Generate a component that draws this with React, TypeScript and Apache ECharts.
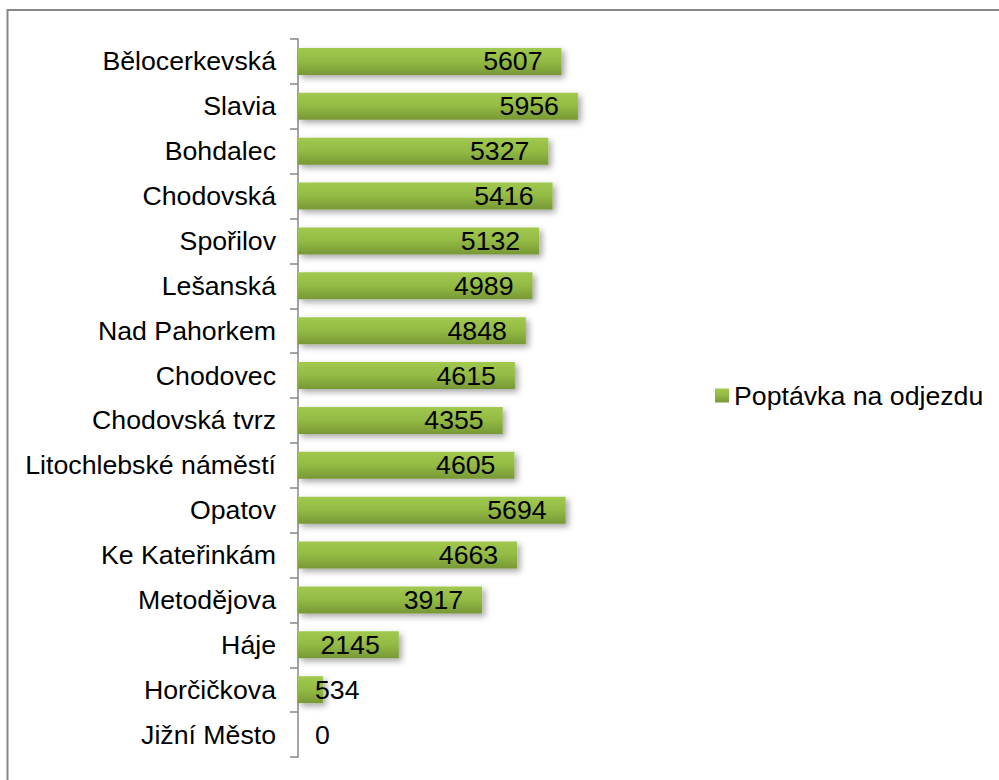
import React, { useEffect, useRef } from "react";
import * as echarts from "echarts";

const categories = [
  "Bělocerkevská",
  "Slavia",
  "Bohdalec",
  "Chodovská",
  "Spořilov",
  "Lešanská",
  "Nad Pahorkem",
  "Chodovec",
  "Chodovská tvrz",
  "Litochlebské náměstí",
  "Opatov",
  "Ke Kateřinkám",
  "Metodějova",
  "Háje",
  "Horčičkova",
  "Jižní Město",
];

const values = [5607, 5956, 5327, 5416, 5132, 4989, 4848, 4615, 4355, 4605, 5694, 4663, 3917, 2145, 534, 0];

const seriesName = "Poptávka na odjezdu";

const FONT = "'Liberation Sans', Arial, sans-serif";
const FS = 26.7;

export default function App() {
  const ref = useRef<HTMLDivElement>(null);

  useEffect(() => {
    if (!ref.current) return;
    const chart = echarts.init(ref.current, undefined, { renderer: "svg" });
    const barColor = new echarts.graphic.LinearGradient(0, 0, 0, 1, [
      { offset: 0, color: "#a1c94f" },
      { offset: 0.5, color: "#93ba43" },
      { offset: 1, color: "#789836" },
    ]);
    chart.setOption({
      animation: false,
      backgroundColor: "#ffffff",
      textStyle: { fontFamily: FONT },
      graphic: [
        {
          type: "rect",
          shape: { x: 7.5, y: 10, width: 1100, height: 900 },
          style: { fill: "none", stroke: "#878787", lineWidth: 2 },
          silent: true,
          z: -10,
        },
      ],
      grid: { left: 298, top: 39, width: 329, height: 718, containLabel: false },
      xAxis: {
        type: "value",
        min: 0,
        max: 7000,
        show: false,
      },
      yAxis: {
        type: "category",
        data: categories,
        inverse: true,
        axisLine: { show: true, lineStyle: { color: "#878787", width: 1.5 } },
        axisTick: { show: true, length: 8, lineStyle: { color: "#878787", width: 1.5 } },
        axisLabel: { color: "#000000", fontSize: FS, fontFamily: FONT, margin: 22 },
        splitLine: { show: false },
      },
      legend: {
        show: true,
        orient: "vertical",
        left: 715,
        top: 382,
        padding: 0,
        itemWidth: 14,
        itemHeight: 14,
        icon: "rect",
        textStyle: { color: "#000000", fontSize: FS, fontFamily: FONT },
        data: [seriesName],
      },
      series: [
        {
          name: seriesName,
          type: "bar",
          barCategoryGap: "40%",
          itemStyle: {
            color: barColor,
            shadowColor: "rgba(0,0,0,0.35)",
            shadowBlur: 6,
            shadowOffsetX: 3,
            shadowOffsetY: 3,
          },
          label: {
            show: true,
            position: "insideRight",
            distance: 19,
            color: "#000000",
            fontSize: FS,
            fontFamily: FONT,
          },
          data: values.map((v) =>
            v < 1000
              ? { value: v, label: { position: "insideLeft", distance: 17 } }
              : { value: v }
          ),
        },
      ],
    });
    return () => chart.dispose();
  }, []);

  return (
    <div
      ref={ref}
      style={{ position: "fixed", left: 0, top: 0, width: 999, height: 780 }}
    />
  );
}
